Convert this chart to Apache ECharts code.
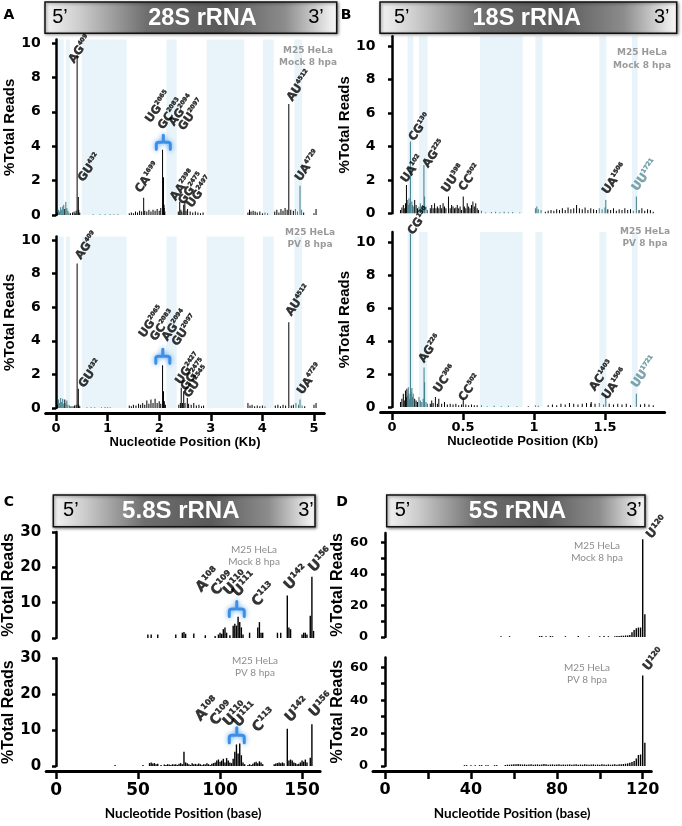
<!DOCTYPE html>
<html><head><meta charset="utf-8">
<script src="https://cdn.jsdelivr.net/npm/echarts@6/dist/echarts.min.js"></script>
<style>html,body{margin:0;padding:0;background:#fff}#c{width:682px;height:826px}</style>
</head><body><div id="c"></div><script>
// ---------------- DATA ----------------
// shaded (light blue) regions, kb
const r28Bands = [[0.04,0.15],[0.19,0.27],[0.50,1.37],[2.14,2.34],[2.92,3.65],[4.01,4.22],[4.62,4.77]];
const r18Bands = [[0.11,0.15],[0.19,0.25],[0.62,0.92],[1.01,1.06],[1.46,1.51],[1.69,1.73]];

// 28S rRNA, Mock  [position kb, %reads]
const r28Mock = [[0.03,0.15],[0.05,0.3],[0.07,0.2],[0.09,0.45],[0.11,0.3],[0.13,0.5],[0.15,0.6],[0.17,0.35],[0.19,0.75],[0.21,0.4],[0.23,0.25],[0.25,0.15],[0.28,0.1],
 [0.32,0.15],[0.35,0.2],[0.37,0.1],[0.39,0.25],[0.409,9.3],[0.432,1.05],[0.44,0.3],[0.46,0.15],
 [0.72,0.04],[0.85,0.05],[0.95,0.04],[1.05,0.05],[1.12,0.04],[1.2,0.05],
 [1.42,0.1],[1.46,0.15],[1.5,0.1],[1.54,0.2],[1.58,0.15],[1.62,0.25],[1.66,0.2],[1.699,1.0],[1.72,0.25],[1.76,0.2],[1.8,0.3],[1.84,0.2],[1.88,0.3],[1.92,0.25],[1.96,0.35],[2.0,0.25],[2.03,0.4],[2.065,3.8],[2.083,2.2],[2.094,0.6],[2.097,0.4],[2.11,0.2],
 [2.37,0.2],[2.398,0.77],[2.42,0.3],[2.44,0.2],[2.475,0.6],[2.497,0.75],[2.52,0.25],[2.55,0.35],[2.6,0.2],[2.65,0.15],[2.7,0.2],[2.75,0.15],[2.8,0.1],[2.85,0.15],
 [3.72,0.15],[3.75,0.3],[3.78,0.2],[3.82,0.25],[3.86,0.2],[3.9,0.15],[3.95,0.2],[4.0,0.1],[4.05,0.15],[4.1,0.1],
 [4.24,0.2],[4.28,0.3],[4.32,0.15],[4.36,0.35],[4.4,0.25],[4.44,0.4],[4.48,0.3],[4.512,6.45],[4.55,0.3],[4.6,0.25],[4.64,0.35],[4.68,0.2],[4.729,1.7],[4.76,0.3],[4.8,0.15],
 [5.0,0.1],[5.04,0.35]];
// 28S rRNA, PV
const r28PV = [[0.03,0.2],[0.05,0.5],[0.07,0.3],[0.09,0.6],[0.11,0.35],[0.13,0.55],[0.15,0.25],[0.17,0.5],[0.19,0.3],[0.21,0.45],[0.23,0.2],[0.26,0.15],[0.29,0.1],
 [0.33,0.1],[0.36,0.15],[0.39,0.2],[0.409,8.6],[0.432,1.15],[0.44,0.2],[0.46,0.1],
 [0.6,0.05],[0.68,0.04],[0.75,0.05],[0.88,0.04],[0.95,0.06],[1.0,0.05],[1.05,0.05],
 [1.42,0.15],[1.46,0.1],[1.5,0.2],[1.55,0.15],[1.6,0.25],[1.64,0.2],[1.68,0.3],[1.72,0.2],[1.76,0.45],[1.8,0.25],[1.84,0.5],[1.88,0.3],[1.92,0.55],[1.96,0.3],[2.0,0.4],[2.03,0.25],[2.065,2.55],[2.083,1.0],[2.1,0.4],[2.12,0.2],
 [2.38,0.2],[2.41,0.3],[2.427,1.2],[2.45,0.3],[2.475,1.0],[2.5,0.3],[2.545,0.6],[2.57,0.25],[2.62,0.2],[2.67,0.3],[2.72,0.15],[2.77,0.2],[2.82,0.1],[2.86,0.15],
 [3.72,0.3],[3.76,0.15],[3.8,0.2],[3.85,0.1],[3.9,0.15],[3.95,0.1],[4.0,0.15],[4.05,0.1],
 [4.25,0.15],[4.3,0.2],[4.35,0.1],[4.4,0.2],[4.45,0.15],[4.512,5.1],[4.56,0.15],[4.6,0.2],[4.65,0.3],[4.7,0.2],[4.729,0.5],[4.77,0.15],[4.82,0.1],
 [5.0,0.2],[5.04,0.3]];
// 18S rRNA, Mock
const r18Mock = [[0.06,0.2],[0.07,0.35],[0.08,0.5],[0.09,0.3],[0.095,0.6],[0.102,1.7],[0.11,0.8],[0.115,0.5],[0.12,0.9],[0.125,0.6],[0.13,4.3],[0.14,0.7],[0.145,0.5],[0.15,0.4],[0.16,0.8],[0.17,0.5],[0.18,0.3],[0.19,0.4],[0.2,0.6],[0.21,0.3],[0.215,0.5],[0.225,2.9],[0.23,1.0],[0.24,0.4],[0.25,0.2],
 [0.27,0.3],[0.28,0.5],[0.29,0.3],[0.3,0.6],[0.31,0.3],[0.32,0.4],[0.33,0.3],[0.34,0.5],[0.35,0.3],[0.36,0.6],[0.37,0.4],[0.38,0.3],[0.398,1.0],[0.41,0.3],[0.42,0.5],[0.43,0.4],[0.44,0.3],[0.45,0.35],[0.46,0.5],[0.47,0.3],[0.48,0.4],[0.49,0.2],[0.502,1.0],[0.51,0.4],[0.52,0.3],[0.53,0.6],[0.54,0.4],[0.55,0.3],[0.56,0.5],[0.57,0.7],[0.58,0.4],[0.59,0.6],[0.6,0.3],[0.61,0.2],
 [0.63,0.15],[0.66,0.05],[0.7,0.08],[0.73,0.1],[0.76,0.07],[0.79,0.1],[0.82,0.06],[0.85,0.08],[0.9,0.05],
 [1.01,0.3],[1.02,0.4],[1.03,0.25],[1.05,0.2],
 [1.08,0.1],[1.1,0.15],[1.12,0.2],[1.14,0.15],[1.16,0.25],[1.18,0.2],[1.2,0.3],[1.22,0.2],[1.24,0.35],[1.26,0.25],[1.28,0.3],[1.3,0.5],[1.32,0.3],[1.34,0.25],[1.36,0.35],[1.38,0.2],[1.4,0.3],[1.42,0.25],[1.44,0.2],[1.46,0.3],[1.48,0.25],[1.5,0.35],[1.506,0.8],[1.52,0.25],[1.54,0.2],[1.56,0.3],[1.58,0.15],[1.6,0.25],[1.62,0.2],[1.64,0.3],[1.66,0.2],[1.68,0.25],[1.7,0.15],[1.721,1.0],[1.74,0.2],[1.76,0.3],[1.78,0.15],[1.8,0.25],[1.82,0.2],[1.84,0.1]];
// 18S rRNA, PV
const r18PV = [[0.06,0.3],[0.07,0.5],[0.08,0.8],[0.09,0.4],[0.095,1.0],[0.1,0.6],[0.105,1.1],[0.11,0.7],[0.115,1.2],[0.12,0.8],[0.125,0.5],[0.13,10.5],[0.135,0.9],[0.14,1.15],[0.145,0.6],[0.15,0.8],[0.16,0.5],[0.17,0.4],[0.18,0.3],[0.19,0.6],[0.2,0.4],[0.21,0.3],[0.22,0.5],[0.226,2.4],[0.23,1.5],[0.24,0.3],[0.25,0.2],
 [0.27,0.2],[0.28,0.4],[0.29,0.25],[0.306,0.6],[0.32,0.2],[0.33,0.5],[0.35,0.2],[0.37,0.3],[0.39,0.15],[0.41,0.2],[0.43,0.15],[0.45,0.2],[0.47,0.1],[0.49,0.15],[0.502,0.5],[0.52,0.15],[0.54,0.1],[0.56,0.15],[0.58,0.1],[0.6,0.1],
 [0.63,0.1],[0.67,0.05],[0.72,0.08],[0.77,0.05],[0.82,0.07],[0.88,0.05],[0.96,0.05],[1.01,0.1],[1.03,0.08],
 [1.1,0.1],[1.13,0.15],[1.16,0.1],[1.19,0.2],[1.22,0.15],[1.25,0.25],[1.28,0.2],[1.31,0.15],[1.34,0.2],[1.37,0.25],[1.4,0.2],[1.403,0.3],[1.43,0.2],[1.46,0.25],[1.49,0.15],[1.506,0.7],[1.53,0.2],[1.56,0.15],[1.59,0.2],[1.62,0.15],[1.65,0.2],[1.68,0.1],[1.721,0.8],[1.75,0.15],[1.78,0.2],[1.81,0.15],[1.84,0.1]];
// 5.8S rRNA  [position base, %reads]
const r58Mock = [[56,1],[58,1],[62,1],[73,1],[77,1.5],[78,1.7],[79,1.2],[84,1.3],[91,0.8],[97,0.6],[99,1],[100,1.5],[101,1.2],[102,2.5],[103,3],[104,1.5],[106,0.8],[108,3.5],[109,4],[110,3.5],[111,6],[112,4.5],[113,3],[114,1],[118,1.5],[123,3],[124,4.5],[125,1.5],[126,1.5],[135,1.5],[137,1.5],[141,12],[142,3],[143,2.5],[150,1],[151,1.5],[152,1.5],[153,1],[155,6.3],[156,17.3],[157,2]];
const r58PV = [[36,0.3],[53,0.3],[57,0.8],[58,1],[59,0.7],[60,0.8],[61,0.5],[62,0.6],[64,0.3],[66,0.4],[67,0.3],[68,0.5],[69,0.4],[70,0.3],[71,0.5],[72,0.4],[73,0.5],[74,0.3],[75,0.6],[76,0.8],[77,0.5],[78,4],[79,1],[80,0.8],[81,0.5],[82,0.3],[83,0.8],[84,0.5],[85,0.6],[86,0.4],[87,0.7],[88,0.5],[89,0.3],[90,0.5],[91,0.4],[92,0.8],[93,0.5],[94,0.3],[95,0.6],[96,0.8],[97,1],[98,1.5],[99,1.8],[100,1.2],[101,1.5],[102,2],[103,1],[104,2.2],[105,1.5],[106,1],[107,0.8],[108,2],[109,4],[110,6],[111,3.5],[112,6.3],[113,3],[114,1],[115,0.5],[117,0.3],[118,0.5],[119,0.3],[120,0.6],[121,1],[122,1.2],[123,0.8],[124,1.3],[125,1],[126,0.5],[133,0.5],[134,0.7],[135,0.8],[136,1],[137,0.8],[138,1],[139,0.8],[141,10.4],[142,1.5],[143,1.8],[144,1.5],[145,1],[146,0.8],[147,0.5],[148,0.6],[149,1],[150,1.5],[151,1.2],[152,1.8],[153,1],[155,2.3],[156,11.6]];
// 5S rRNA
const r5Mock = [[54,0.5],[58,0.5],[72,0.6],[73,0.6],[75,0.5],[77,0.6],[78,0.5],[84,0.5],[90,0.6],[95,0.5],[100,0.5],[102,0.6],[104,0.5],[107,0.5],[108,0.6],[109,0.7],[110,0.8],[111,0.8],[112,1.0],[113,1.0],[114,1.2],[115,3.0],[116,4.5],[117,5.5],[118,6.0],[119,6.0],[120,62],[121,14.4]];
const r5PV = [[37,0.5],[38,0.5],[40,0.5],[42,0.5],[44,0.5],[45,0.5],[47,0.5],[48,0.5],[51,0.5],[52,0.5],[56,0.6],[57,0.8],[58,0.8],[59,0.9],[60,1.0],[61,1.1],[62,1.2],[63,1.0],[64,0.9],[65,1.0],[66,0.8],[67,0.9],[68,1.0],[69,0.8],[70,0.9],[71,1.0],[72,0.8],[73,0.9],[74,1.2],[75,1.0],[76,0.8],[77,0.9],[78,1.0],[79,0.8],[80,0.9],[81,1.0],[82,0.8],[83,0.9],[84,0.8],[85,0.9],[86,1.0],[87,0.8],[88,0.9],[89,1.0],[90,0.8],[91,0.9],[92,0.8],[93,1.0],[94,0.9],[95,0.8],[96,0.9],[97,1.0],[98,0.8],[99,0.9],[100,0.8],[101,1.0],[102,0.9],[103,0.8],[104,1.0],[105,0.8],[106,0.9],[107,1.0],[108,0.8],[109,1.0],[110,1.1],[111,1.2],[112,1.4],[113,1.6],[114,2.0],[115,2.5],[116,3.0],[117,4.5],[118,6.7],[119,7.0],[120,55],[121,14.2]];

// peak annotations  [x, y (label start), base, superscript, teal?]
const r28MockLabels = [[0.386,8.7,'AG','409'],[0.566,1.8,'GU','432'],[1.676,1.16,'CA','1699'],[1.876,5.23,'UG','2065'],[2.116,4.84,'GC','2083'],[2.326,5.04,'AG','2094'],[2.516,4.78,'GU','2097'],[2.356,0.7,'AA','2398'],[2.516,0.48,'GG','2475'],[2.676,0.29,'UG','2497'],[4.616,6.49,'AU','4512'],[4.776,1.84,'UA','4729']];
const r28PVLabels = [[0.516,8.7,'AG','409'],[0.581,1.07,'GU','432'],[1.746,4.05,'UG','2065'],[1.966,3.85,'GC','2083'],[2.196,3.85,'AG','2094'],[2.386,3.55,'GU','2097'],[2.456,1.27,'UG','2427'],[2.556,0.91,'GG','2475'],[2.616,0.48,'GU','2545'],[4.596,5.34,'AU','4512'],[4.816,0.67,'UA','4729']];
const r18MockLabels = [[0.115,1.69,'UA','102'],[0.169,4.19,'CG','130'],[0.267,2.59,'AG','225'],[0.402,1.1,'UU','398'],[0.522,1.2,'CC','502'],[1.532,1.0,'UA','1506'],[1.742,1.2,'UU','1721',1]];
const r18PVLabels = [[0.162,10.3,'CG','130'],[0.239,2.55,'AG','226'],[0.345,0.73,'UC','306'],[0.522,0.22,'CC','502'],[1.442,0.83,'AC','1403'],[1.532,0.32,'UA','1506'],[1.737,1.03,'UU','1721',1]];
const r58MockLabels = [[89.5,12.2,'A','108'],[98.6,11.2,'C','109'],[106.3,11.2,'U','110'],[111.8,10.8,'U','111'],[123.6,8.1,'C','113'],[143.3,12.8,'U','142'],[158.2,17.8,'U','156']];
const r58PVLabels = [[89.1,11.7,'A','108'],[98.0,10.5,'C','109'],[106.1,10.2,'U','110'],[112.2,10.0,'U','111'],[124.0,8.6,'C','113'],[143.9,11.4,'U','142'],[158.6,12.8,'U','156']];
const r5MockLabels = [[124.8,60.8,'U','120']];
const r5PVLabels = [[123.3,56.4,'U','120']];
// bracket positions [x, y]
const r28MockBrace = [[2.08,4.23]];
const r28PVBrace = [[2.07,3.08]];
const r58MockBrace = [[110.2,8.2]];
const r58PVBrace = [[110.2,8.6]];

// ---------------- STYLE / LAYOUT ----------------
const FA = '"Liberation Sans", Arial, sans-serif';
const FD = '"DejaVu Sans", sans-serif';
const FL = 'Lato, sans-serif';
const TEAL = '#3f7c88', BAND = '#e8f4f9', BLUE = '#3d8fe6';

const STY = {
  AB: {yFs:14, yNameFs:15, xFs:13, xNameFs:13, xNameFont:FA, xNameGap:22, xMargin:9, lb:11.5, ls:6, rot:55, bw:1, br:[14,18]},
  C:  {yFs:15, yNameFs:16, xFs:17, xNameFs:13.5, xNameFont:FL, xNameGap:36, xMargin:11, lb:14, ls:8, rot:45, bw:1.4, br:[19,15]},
  D:  {yFs:13, yNameFs:16, xFs:16, xNameFs:13.5, xNameFont:FL, xNameGap:36, xMargin:11, lb:12, ls:7.5, rot:50, bw:1.4, br:[19,15]}
};

const P = [
 {s:'AB', g:[45.7,39.6,278.6,175.4], x:[-0.2,5.2], y:10.2, yt:[0,2,4,6,8,10], yl:[0,2,4,6,8,10], bottom:false, data:r28Mock, bands:r28Bands, labels:r28MockLabels, brace:r28MockBrace, nameGap:14},
 {s:'AB', g:[45.7,236.6,278.6,171.4], x:[-0.2,5.2], y:10.2, yt:[0,2,4,6,8,10], yl:[0,2,4,6,8,10], bottom:true, xt:[0,1,2,3,4,5], xl:[0,1,2,3,4,5], xname:'Nucleotide Position (Kb)', data:r28PV, bands:r28Bands, labels:r28PVLabels, brace:r28PVBrace, nameGap:14},
 {s:'AB', g:[380.6,36.3,284,177], x:[-0.08,1.92], y:10.6, yt:[0,2,4,6,8,10], yl:[0,2,4,6,8,10], bottom:false, data:r18Mock, bands:r18Bands, labels:r18MockLabels, brace:[], nameGap:20},
 {s:'AB', g:[380.6,232.1,284,174.9], x:[-0.08,1.92], y:10.6, yt:[0,2,4,6,8,10], yl:[0,2,4,6,8,10], bottom:true, xt:[0,0.5,1,1.5], xl:[0,0.5,1,1.5], xname:'Nucleotide Position (Kb)', data:r18PV, bands:r18Bands, labels:r18PVLabels, brace:[], nameGap:20},
 {s:'C', g:[46.2,532,273.9,106], x:[-6,161], y:30, yt:[0,10,20,30], yl:[0,10,20,30], bottom:false, data:r58Mock, bands:[], labels:r58MockLabels, brace:r58MockBrace, nameGap:25},
 {s:'C', g:[46.2,658.3,273.9,107.7], x:[-6,161], y:30, yt:[0,10,20,30], yl:[0,10,20,30], bottom:true, xt:[0,50,100,150], xl:[0,50,100,150], xname:'Nucleotide Position (base)', data:r58PV, bands:[], labels:r58PVLabels, brace:r58PVBrace, nameGap:25},
 {s:'D', g:[373,532.9,278.3,104.1], x:[-5.6,124], y:66, yt:[0,10,20,30,40,50,60], yl:[0,20,40,60], bottom:false, data:r5Mock, bands:[], labels:r5MockLabels, brace:[], nameGap:18},
 {s:'D', g:[373,657.4,278.3,108.6], x:[-5.6,124], y:66, yt:[0,10,20,30,40,50,60], yl:[0,20,40,60], bottom:true, xt:[0,20,40,60,80,100,120], xl:[0,40,80,120], xname:'Nucleotide Position (base)', data:r5PV, bands:[], labels:r5PVLabels, brace:[], nameGap:18}
];

function inBand(x, bands){ for (const b of bands) if (x >= b[0] && x <= b[1]) return true; return false; }

// brace glyph path (unit box, stretched to w x h)
const BRACE_PATH = 'M0,20 L0,13 Q0,10 4,10 L8,10 Q10,10 10,7 L10,0 M20,20 L20,13 Q20,10 16,10 L12,10 Q10,10 10,7';

const grid=[], xAxis=[], yAxis=[], series=[];
P.forEach((p,i)=>{
  const st = STY[p.s];
  grid.push({left:p.g[0], top:p.g[1], width:p.g[2], height:p.g[3], containLabel:false, outerBoundsMode:'none'});
  xAxis.push({
    gridIndex:i, type:'value', min:p.x[0], max:p.x[1], show:p.bottom, offset:5,
    axisLine:{show:true, onZero:false, lineStyle:{color:'#000', width:3}},
    axisTick:{show:true, length:8, lineStyle:{color:'#000', width:2.5}, customValues:p.xt},
    axisLabel:{customValues:p.xl, color:'#000', fontFamily:FD, fontWeight:'bold', fontSize:st.xFs, margin:st.xMargin},
    splitLine:{show:false},
    name:p.xname||'', nameLocation:'middle', nameGap:st.xNameGap,
    nameTextStyle:{color:'#000', fontFamily:st.xNameFont, fontWeight:'bold', fontSize:st.xNameFs}
  });
  yAxis.push({
    gridIndex:i, type:'value', min:0, max:p.y,
    axisLine:{show:true, lineStyle:{color:'#000', width:2.5}},
    axisTick:{show:true, length:4, lineStyle:{color:'#000', width:2.5}, customValues:p.yt},
    axisLabel:{customValues:p.yl, color:'#000', fontFamily:FD, fontWeight:'bold', fontSize:st.yFs, margin:5},
    splitLine:{show:false},
    name:'%Total Reads', nameLocation:'middle', nameGap:p.nameGap,
    nameTextStyle:{color:'#000', fontFamily:FA, fontWeight:'bold', fontSize:st.yNameFs}
  });
  const bands = p.bands;
  series.push({
    type:'bar', xAxisIndex:i, yAxisIndex:i, barWidth:st.bw, z:2, silent:true,
    data:p.data,
    itemStyle:{color:(q)=> inBand(q.value[0], bands) ? TEAL : '#000'},
    markArea:{silent:true, itemStyle:{color:BAND}, data:bands.map(b=>[{xAxis:b[0]},{xAxis:b[1]}])}
  });
  const rs = (size, color, sup) => ({fontFamily:FD, fontWeight:'bold', fontSize:size, color,
    lineHeight: sup ? size : size+1, verticalAlign: sup ? 'top' : 'bottom', textBorderColor:color, textBorderWidth:0.4});
  series.push({
    type:'scatter', xAxisIndex:i, yAxisIndex:i, symbolSize:1, itemStyle:{color:'rgba(0,0,0,0)'}, z:5, silent:true, clip:false,
    data:p.labels.map(l=>({value:[l[0],l[1]], t:l[2], sp:l[3], teal:!!l[4]})),
    label:{show:true, position:'right', distance:0, align:'left', verticalAlign:'bottom', rotate:st.rot,
      fontFamily:FD, fontWeight:'bold', fontSize:st.lb, color:'#000',
      formatter:(q)=> q.data.teal ? `{bt|${q.data.t}}{st|${q.data.sp}}` : `{b|${q.data.t}}{s|${q.data.sp}}`,
      rich:{ b:rs(st.lb,'#000',false), s:rs(st.ls,'#000',true), bt:rs(st.lb,'#5e8f98',false), st:rs(st.ls,'#5e8f98',true) }}
  });
  if (p.brace.length) series.push({
    type:'custom', xAxisIndex:i, yAxisIndex:i, z:6, silent:true, data:p.brace,
    renderItem:(params, api)=>{
      const c = api.coord([api.value(0), api.value(1)]);
      const w = st.br[0], h = st.br[1];
      return {type:'path', shape:{pathData:BRACE_PATH, x:c[0]-w/2, y:c[1]-h/2, width:w, height:h},
        style:{stroke:BLUE, fill:null, lineWidth:3, lineCap:'round', lineJoin:'round', shadowBlur:5, shadowColor:'rgba(70,150,240,0.9)'}};
    }
  });
});

// headers & annotations
const GRAD = {type:'linear', x:0, y:0, x2:1, y2:0, colorStops:[
  {offset:0,color:'#f4f4f4'},{offset:0.12,color:'#cdcdcd'},{offset:0.35,color:'#6e6e6e'},
  {offset:0.6,color:'#5a5a5a'},{offset:0.82,color:'#8c8c8c'},{offset:1,color:'#fbfbfb'}]};
function txt(x,y,text,font,fill,align){
  return {type:'text', x, y, z:10, style:{text, font, fill, align:align||'center', verticalAlign:'middle', textAlign:align||'center', textVerticalAlign:'middle'}};
}
function header(x,y,w,h,title,tx,fs,p5,p3){
  return [
    {type:'rect', z:9, shape:{x,y,width:w,height:h}, style:{fill:GRAD, stroke:'#111', lineWidth:1.5, shadowBlur:3, shadowOffsetX:1, shadowOffsetY:1, shadowColor:'rgba(0,0,0,0.45)'}},
    txt(tx, y+h/2+1, title, `bold ${fs}px ${FA}`, '#fff'),
    txt(p5, y+h/2, '5’', `20px ${FA}`, '#000'),
    txt(p3, y+h/2, '3’', `20px ${FA}`, '#000')
  ];
}
const graphic = [].concat(
  header(45,2,291.7,31.3,'28S rRNA',202.5,23.5,60,316),
  header(380,2,296.7,31.3,'18S rRNA',526.7,23.5,401.7,661.7),
  header(53.3,495,261.7,31.7,'5.8S rRNA',180.8,24,70.8,306),
  header(386.7,495,258.3,31.7,'5S rRNA',517.5,24,402.5,634),
  [
    txt(9,15,'A',`bold 14px ${FD}`,'#000'),
    txt(346,15,'B',`bold 14px ${FD}`,'#000'),
    txt(9,502,'C',`bold 14px ${FD}`,'#000'),
    txt(342,502,'D',`bold 14px ${FD}`,'#000'),
    txt(308,51,'M25 HeLa',`bold 9px ${FD}`,'#9a9a9a'),
    txt(308,63,'Mock 8 hpa',`bold 9px ${FD}`,'#9a9a9a'),
    txt(310,233,'M25 HeLa',`bold 9px ${FD}`,'#9a9a9a'),
    txt(310,245,'PV 8 hpa',`bold 9px ${FD}`,'#9a9a9a'),
    txt(642,53,'M25 HeLa',`bold 9px ${FD}`,'#9a9a9a'),
    txt(642,66,'Mock 8 hpa',`bold 9px ${FD}`,'#9a9a9a'),
    txt(645,232,'M25 HeLa',`bold 9px ${FD}`,'#9a9a9a'),
    txt(645,244,'PV 8 hpa',`bold 9px ${FD}`,'#9a9a9a'),
    txt(254,550,'M25 HeLa',`10px ${FL}`,'#8c8c8c'),
    txt(254,562,'Mock 8 hpa',`10px ${FL}`,'#8c8c8c'),
    txt(255,661,'M25 HeLa',`10px ${FL}`,'#8c8c8c'),
    txt(255,673,'PV 8 hpa',`10px ${FL}`,'#8c8c8c'),
    txt(597,546,'M25 HeLa',`10px ${FL}`,'#8c8c8c'),
    txt(597,558,'Mock 8 hpa',`10px ${FL}`,'#8c8c8c'),
    txt(587,668,'M25 HeLa',`10px ${FL}`,'#8c8c8c'),
    txt(587,680,'PV 8 hpa',`10px ${FL}`,'#8c8c8c')
  ]
);

const chart = echarts.init(document.getElementById('c'), null, {renderer:'canvas', width:682, height:826});
chart.setOption({animation:false, backgroundColor:'#fff', grid, xAxis, yAxis, series, graphic});
</script></body></html>
